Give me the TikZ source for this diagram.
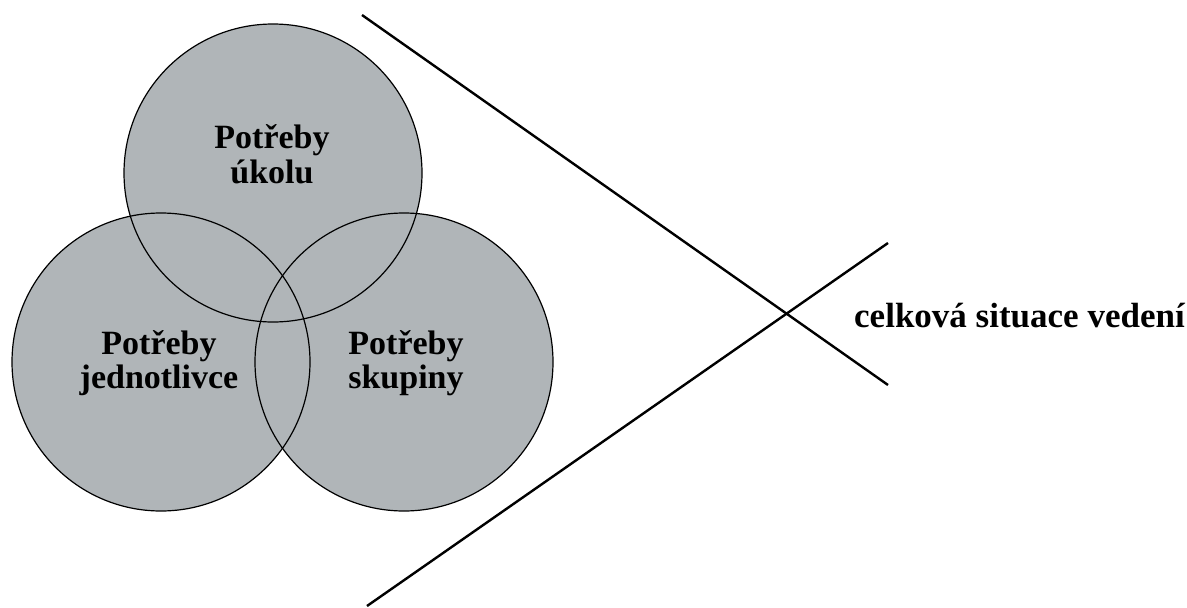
\documentclass[tikz,border=0pt]{standalone}
\usepackage{fontspec}
\setmainfont{Liberation Serif}
\definecolor{circfill}{RGB}{176,181,184}
\begin{document}
\begin{tikzpicture}[x=1pt,y=-1pt,
  circfillstyle/.style={fill=circfill},
  circline/.style={draw=black,line width=1.2pt},
  bigline/.style={draw=black,line width=2.4pt},
  lbl/.style={inner sep=0pt,anchor=base,font=\fontsize{34}{40}\selectfont\bfseries}]
\useasboundingbox (0,0) rectangle (1187,608);
% circles
\fill[circfillstyle] (273,173) circle[radius=149];
\fill[circfillstyle] (161,362) circle[radius=149];
\fill[circfillstyle] (404,362) circle[radius=149];
\draw[circline] (273,173) circle[radius=149];
\draw[circline] (161,362) circle[radius=149];
\draw[circline] (404,362) circle[radius=149];
% labels
\node[lbl] (t1) at (272,148.5) {Potřeby};
\node[lbl] (t2) at (272,183) {úkolu};
\node[lbl] (l1) at (159,354) {Potřeby};
\node[lbl] (l2) at (159,388) {jednotlivce};
\node[lbl] (r1) at (406,354) {Potřeby};
\node[lbl] (r2) at (406,388) {skupiny};
% crossing lines
\coordinate (a1) at (362,15);
\coordinate (a2) at (888,385);
\coordinate (b1) at (888,243);
\coordinate (b2) at (367,606);
\draw[bigline] (a1) -- (a2);
\draw[bigline] (b1) -- (b2);
\node[lbl,anchor=base west,font=\fontsize{35}{40}\selectfont\bfseries] (sit) at (854,327) {celková situace vedení};
\end{tikzpicture}
\end{document}
